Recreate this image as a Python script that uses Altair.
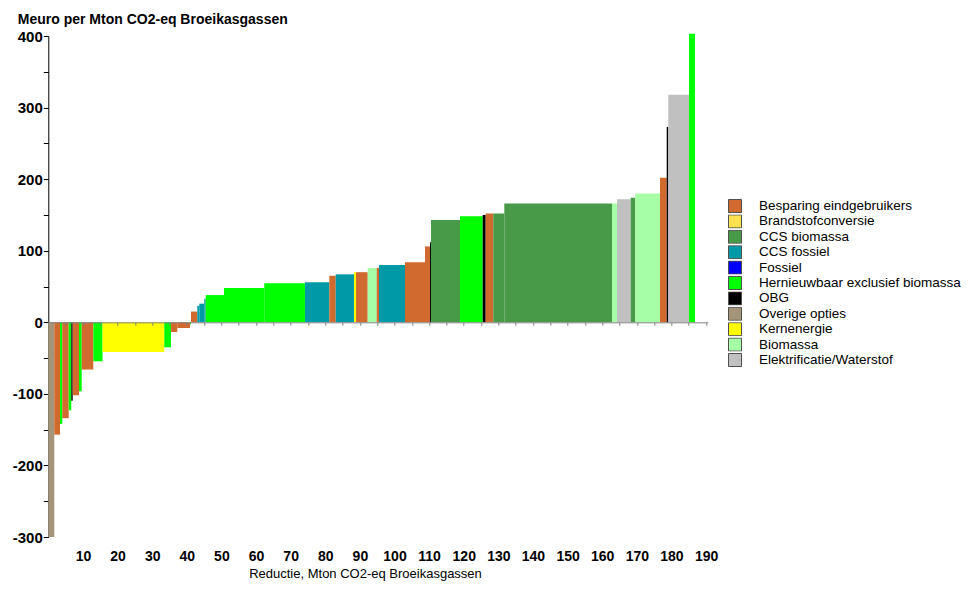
import altair as alt
import pandas as pd

# Legend order and colours
categories = [
    "Besparing eindgebruikers",
    "Brandstofconversie",
    "CCS biomassa",
    "CCS fossiel",
    "Fossiel",
    "Hernieuwbaar exclusief biomassa",
    "OBG",
    "Overige opties",
    "Kernenergie",
    "Biomassa",
    "Elektrificatie/Waterstof",
]
colors = [
    "#D06A2E", "#FFE050", "#489A48", "#0099A8", "#0000FF", "#00FF00",
    "#000000", "#A49479", "#FFFF00", "#A6FFA6", "#C0C0C0",
]

B = "Besparing eindgebruikers"
CB = "CCS biomassa"
CF = "CCS fossiel"
H = "Hernieuwbaar exclusief biomassa"
O = "OBG"
OV = "Overige opties"
K = "Kernenergie"
BIO = "Biomassa"
E = "Elektrificatie/Waterstof"

# Options in merit order
option_category = [
    OV, B, H, B, H, O, B, H, B, H, K, H, B, B, H, B, CF, CF, CF, H, H, H, CF, B,
    CF, K, B, BIO, B, CF, B, B, O, CB, H, O, B, CB, CB, BIO, E, CB, BIO, B, O, E, H,
]
# Reduction per option (Mton CO2-eq)
reduction = [
    1.73, 1.65, 0.66, 1.85, 0.75, 0.41, 1.82, 0.78, 3.35, 2.66, 17.85, 1.94,
    1.81, 3.67, 0.29, 1.82, 0.58, 1.44, 0.41, 5.28, 11.64, 11.76, 7.02, 1.85,
    5.28, 0.58, 3.38, 2.60, 0.66, 7.51, 5.78, 1.45, 0.28, 8.38, 6.56, 0.86,
    2.20, 3.18, 31.11, 1.44, 3.96, 1.33, 7.13, 1.94, 0.46, 5.98, 1.73,
]
# Cost (Meuro per Mton CO2-eq)
cost = [
    -300, -157, -142, -134, -123, -109.5, -102, -96.5, -66, -54.5, -41.5, -35,
    -13.5, -8, -3, 15, 23, 26, 33, 38, 48, 54.5, 56, 65,
    67, 70, 70, 76, 76, 80, 84, 106, 112, 143, 148, 150,
    152, 152, 166, 166, 172, 174, 180, 202, 273, 318, 403,
]

df = pd.DataFrame({"cat": option_category, "red": reduction, "cost": cost})
df["end"] = df["red"].cumsum()
df["start"] = df["end"] - df["red"]
df["zero"] = 0.0

FONT = "Liberation Sans"

x_ticks = list(range(5, 191, 5))
y_ticks = list(range(-300, 401, 50))

bars = alt.Chart(df).mark_rect(strokeWidth=0).encode(
    x=alt.X(
        "start:Q",
        scale=alt.Scale(domain=[0, 190.5], nice=False, zero=False),
        axis=alt.Axis(
            values=x_ticks,
            labelExpr="datum.value % 10 == 0 ? datum.label : ''",
            grid=False,
            offset=-214.7,
            zindex=1,
            domainColor="#808080",
            tickColor="#808080",
            tickSize=3,
            labelFont=FONT,
            labelFontSize=14,
            labelFontWeight="bold",
            labelColor="#000000",
            labelPadding=224,
            labelOverlap=False,
            labelFlush=False,
            title="Reductie, Mton CO2-eq Broeikasgassen",
            titleFont=FONT,
            titleFontSize=13,
            titleFontWeight="normal",
            titleColor="#000000",
            titleX=316.7,
            titleY=255.5,
            titleBaseline="alphabetic",
        ),
    ),
    x2="end:Q",
    y=alt.Y(
        "cost:Q",
        scale=alt.Scale(domain=[-300, 400], nice=False, zero=False),
        axis=alt.Axis(
            values=y_ticks,
            labelExpr="datum.value % 100 == 0 ? '' + datum.value : ''",
            grid=False,
            domainColor="#000000",
            tickColor="#000000",
            tickSize=5,
            labelPadding=1,
            labelFont=FONT,
            labelFontSize=15,
            labelFontWeight="bold",
            labelColor="#000000",
            labelOverlap=False,
            labelFlush=False,
            title="Meuro per Mton CO2-eq Broeikasgassen",
            titleFont=FONT,
            titleFontSize=14,
            titleFontWeight="bold",
            titleColor="#000000",
            titleAngle=0,
            titleAlign="left",
            titleBaseline="alphabetic",
            titleX=-31,
            titleY=-12.5,
        ),
    ),
    y2="zero:Q",
    fill=alt.Fill(
        "cat:N",
        scale=alt.Scale(domain=categories, range=colors),
        legend=alt.Legend(
            title=None,
            orient="none",
            legendX=679.7,
            legendY=163,
            symbolType="square",
            symbolSize=169,
            symbolStrokeColor="#505050",
            symbolStrokeWidth=1,
            symbolOpacity=1,
            labelFont=FONT,
            labelFontSize=13.5,
            labelColor="#000000",
            labelLimit=400,
            labelOffset=17,
            clipHeight=14,
            rowPadding=1.4,
            values=categories,
        ),
    ),
    order=alt.Order("start:Q"),
)

chart = bars.properties(
    width=659.5,
    height=501,
    autosize=alt.AutoSizeParams(type="none"),
    padding={"left": 40.3, "top": 28, "right": 258.2, "bottom": 45},
    background="white",
).configure_view(stroke=None)

chart.save("out.html", embed_options={"renderer": "svg", "actions": False})
